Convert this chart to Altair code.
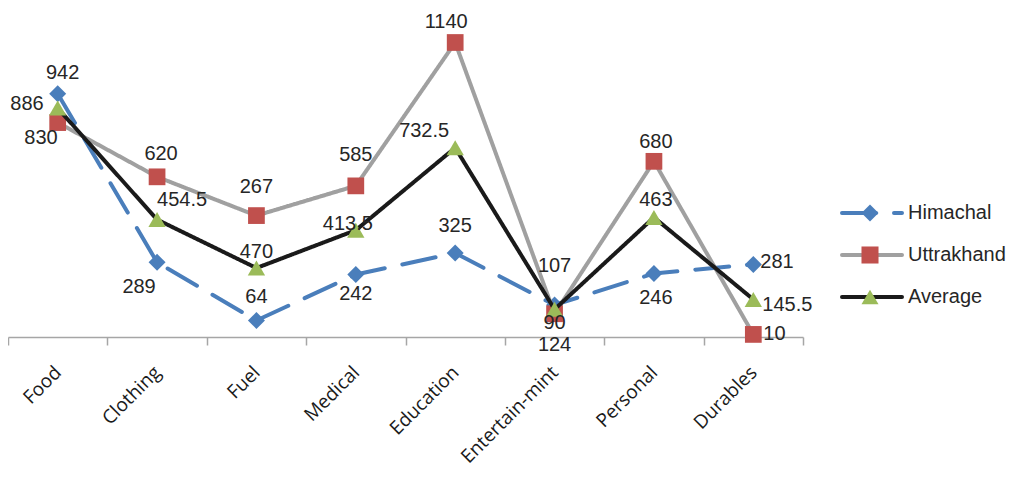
import altair as alt
import pandas as pd

CATEGORIES = ["Food", "Clothing", "Fuel", "Medical", "Education",
              "Entertain-mint", "Personal", "Durables"]
SERIES = ["Himachal", "Uttrakhand", "Average"]

HIMACHAL = [942, 289, 64, 242, 325, 124, 246, 281]
UTTRAKHAND = [830, 620, 470, 585, 1140, 90, 680, 10]
AVERAGE = [886, 454.5, 267, 413.5, 732.5, 107, 463, 145.5]

# data-label texts exactly as printed on the reference
HIMACHAL_LABELS = ["942", "289", "64", "242", "325", "124", "246", "281"]
UTTRAKHAND_LABELS = ["830", "620", "267", "585", "1140", "90", "680", "10"]
AVERAGE_LABELS = ["886", "454.5", "470", "413.5", "732.5", "107", "463", "145.5"]

VALUES = {"Himachal": HIMACHAL, "Uttrakhand": UTTRAKHAND, "Average": AVERAGE}
LABELS = {"Himachal": HIMACHAL_LABELS, "Uttrakhand": UTTRAKHAND_LABELS,
          "Average": AVERAGE_LABELS}

# styling
LINE_COLORS = {"Himachal": "#4A7EBB", "Uttrakhand": "#A0A0A0", "Average": "#1A1A1A"}
MARKER_COLORS = {"Himachal": "#4A7EBB", "Uttrakhand": "#C0504D", "Average": "#9BBB59"}
SHAPES = {"Himachal": "diamond", "Uttrakhand": "square", "Average": "triangle-up"}
DASHES = {"Himachal": [34, 18], "Uttrakhand": [1, 0], "Average": [1, 0]}
MARKER_SIZE = {"Himachal": 290, "Uttrakhand": 280, "Average": 300}

# label placement (align, dx, dy) per series, in category order
PLACE = {
    "Himachal": [("center", 5, -21), ("center", -18, 25), ("center", 0, -23),
                 ("center", 0, 20), ("center", 0, -27), ("center", 0, 40),
                 ("center", 2, 25), ("left", 7, -2)],
    "Uttrakhand": [("right", 0, 15), ("center", 4, -23), ("center", 0, -29),
                   ("center", 0, -31), ("center", -9, -21), ("center", 0, 9),
                   ("center", 2, -19), ("left", 10, 0)],
    "Average": [("right", -14, -4), ("left", 0, -20), ("center", 0, -16),
                ("center", -8, -6), ("right", -6, -17), ("center", 0, -43),
                ("center", 2, -17), ("left", 9, 6)],
}

rows = []
for s in SERIES:
    for c, v, t in zip(CATEGORIES, VALUES[s], LABELS[s]):
        rows.append({"series": s, "category": c, "value": v, "label": t})
df = pd.DataFrame(rows)

x_enc = alt.X(
    "category:N",
    sort=CATEGORIES,
    bandPosition=0.5,
    scale=alt.Scale(type="band", domain=CATEGORIES, paddingInner=0, paddingOuter=0),
    axis=alt.Axis(
        title=None, labelAngle=-45, labelAlign="right", labelBaseline="middle",
        labelFont="Open Sans", labelFontSize=19, labelColor="#1A1A1A",
        labelPadding=24, labelOverlap=False, tickBand="extent", tickSize=8,
        tickColor="#A6A6A6", tickWidth=1.5, domainColor="#A6A6A6",
        domainWidth=1.5, grid=False,
    ),
)
y_enc = alt.Y("value:Q", scale=alt.Scale(domain=[0, 1200], nice=False, zero=True),
              axis=None)

base = alt.Chart(df).encode(x=x_enc, y=y_enc)

layers = []
for s in SERIES:
    sub = base.transform_filter(alt.datum.series == s)
    layers.append(sub.mark_line(color=LINE_COLORS[s], strokeWidth=4,
                                strokeDash=DASHES[s], strokeCap="round",
                                strokeJoin="round"))
    layers.append(sub.mark_point(shape=SHAPES[s], filled=True, opacity=1,
                                 size=MARKER_SIZE[s], color=MARKER_COLORS[s]))

for s in SERIES:
    for c, (al, dx, dy) in zip(CATEGORIES, PLACE[s]):
        layers.append(
            base.transform_filter((alt.datum.series == s) & (alt.datum.category == c))
            .mark_text(align=al, baseline="middle", dx=dx, dy=dy,
                       font="Liberation Sans", fontSize=20, color="#262626")
            .encode(text="label:N")
        )

main = alt.layer(*layers)

# legend (drawn from the series list)
leg_df = pd.DataFrame({"series": SERIES})
leg_y = alt.Y("series:N", scale=alt.Scale(type="point", domain=SERIES,
                                           range=[186, 270], padding=0), axis=None)
leg_base = alt.Chart(leg_df).encode(y=leg_y)
leg_line = leg_base.mark_rule(strokeWidth=4, strokeCap="round").encode(
    x=alt.value(834), x2=alt.value(894),
    stroke=alt.Stroke("series:N", scale=alt.Scale(domain=SERIES,
                      range=[LINE_COLORS[s] for s in SERIES]), legend=None),
    strokeDash=alt.StrokeDash("series:N", scale=alt.Scale(domain=SERIES,
                              range=[DASHES[s] for s in SERIES]), legend=None),
)
leg_mark = leg_base.mark_point(filled=True, opacity=1, size=290).encode(
    x=alt.value(862),
    color=alt.Color("series:N", scale=alt.Scale(domain=SERIES,
                    range=[MARKER_COLORS[s] for s in SERIES]), legend=None),
    shape=alt.Shape("series:N", scale=alt.Scale(domain=SERIES,
                    range=[SHAPES[s] for s in SERIES]), legend=None),
)
leg_text = leg_base.mark_text(align="left", baseline="middle", font="Liberation Sans",
                              fontSize=20, color="#262626").encode(
    x=alt.value(900), text="series:N")
legend = alt.layer(leg_line, leg_mark, leg_text)

chart = (
    alt.layer(main, legend)
    .resolve_scale(y="independent", color="independent", shape="independent")
    .properties(width=795, height=310,
                autosize=alt.AutoSizeParams(type="none"),
                padding={"left": 0, "top": 19, "right": 212, "bottom": 133})
    .configure_view(stroke=None)
)

chart.save("out.html", embed_options={"renderer": "svg", "actions": False})
